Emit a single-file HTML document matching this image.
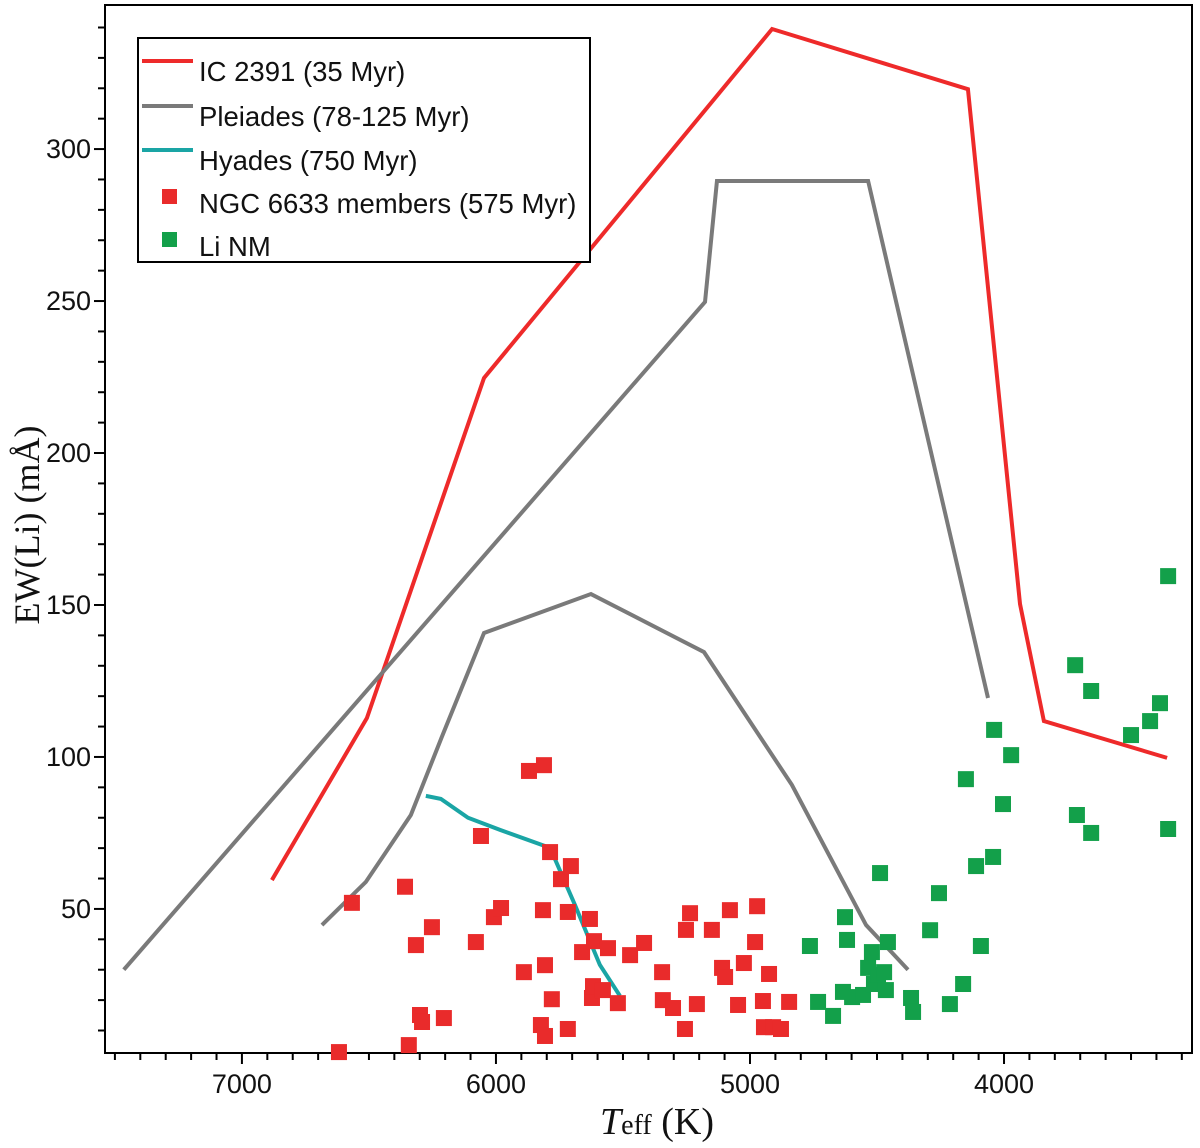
<!DOCTYPE html>
<html><head><meta charset="utf-8"><style>
html,body{margin:0;padding:0;background:#fff;}
svg{display:block;}
text{font-family:"Liberation Sans",Arial,sans-serif;}
</style></head><body>
<svg id="chart" width="1200" height="1148" viewBox="0 0 1200 1148" xmlns="http://www.w3.org/2000/svg">
<g id="plot"></g>
</svg>
<script>
const xTicks=[7000,6000,5000,4000];
const yTicks=[50,100,150,200,250,300];
const icT=[6882,6508,6047,4913,4142,3937,3843,3358];
const icV=[59.5,112.8,224.7,339.5,319.7,150.3,111.8,99.7];
const pl1T=[7465,5177,5130,4535,4063];
const pl1V=[30,249.7,289.5,289.5,119.4];
const pl2T=[6685,6512,6335,6213,6047,5626,5181,4835,4543,4378];
const pl2V=[44.7,58.9,80.9,106.6,140.8,153.6,134.5,90.8,44.7,30];
const hyT=[6276,6217,6110,5984,5787,5689,5591,5512];
const hyV=[87.2,86.2,80,76,70.1,51.3,31.6,21.4];
const memT=[6618,6567,6358,6343,6315,6299,6291,6252,6205,6079,6059,6008,5980,5890,5870,5811,5823,5807,5815,5807,5787,5780,5744,5717,5705,5717,5661,5630,5614,5622,5618,5579,5559,5520,5472,5417,5346,5343,5303,5256,5252,5236,5209,5150,5110,5098,5079,5047,5024,4980,4972,4949,4945,4925,4909,4878,4846];
const memV=[2.9,52,57.3,5.2,38.1,15.1,12.8,44,14.1,39.1,74,47.3,50.3,29.2,95.4,97.3,11.8,8.2,49.6,31.5,68.7,20.3,59.8,49,64.1,10.5,35.8,46.7,39.4,20.7,24.6,23.3,37.1,19,34.8,38.8,29.2,20,17.4,10.5,43.1,48.6,18.7,43.1,30.6,27.6,49.6,18.4,32.2,39.1,50.9,19.7,11.1,28.6,11.1,10.5,19.4];
const nmT=[4764,4732,4673,4626,4618,4634,4598,4555,4535,4520,4512,4496,4488,4472,4457,4465,4366,4358,4291,4256,4213,4161,4150,4110,4091,4043,4039,4004,3972,3720,3713,3657,3657,3500,3425,3386,3354,3354];
const nmV=[37.8,19.4,14.8,47.3,39.8,22.7,21,21.7,30.6,35.8,25.3,28.3,61.8,29.2,39.1,23.3,20.7,16.1,43,55.2,18.7,25.3,92.7,64.1,37.8,67.1,108.9,84.5,100.6,130.2,80.9,121.7,75,107.2,111.8,117.7,159.5,76.3];

const L=105,R=1192,T=5,B=1053;
const tMax=7539,tMin=3260,vMin=2.6,vMax=347.4;
const sx=t=>L+(tMax-t)/(tMax-tMin)*(R-L);
const sy=v=>B-(v-vMin)/(vMax-vMin)*(B-T);
const NS='http://www.w3.org/2000/svg';
const g=document.getElementById('plot');
function mk(tag,attrs,parent){const e=document.createElementNS(NS,tag);for(const k in attrs)e.setAttribute(k,attrs[k]);(parent||g).appendChild(e);return e;}

let fr=mk('rect',{x:L,y:T,width:R-L,height:B-T,fill:'none',stroke:'#000','stroke-width':2});



const xa=mk('g',{});


for(let t=7500;t>=3300;t-=100){const x=sx(t);const maj=t%1000===0;mk('line',{x1:x,x2:x,y1:B,y2:B+(maj?11:7),stroke:'#000','stroke-width':2},xa);}
xTicks.forEach(t=>{const e=mk('text',{x:sx(t),y:B+40,'font-size':27,'text-anchor':'middle',fill:'#111'},xa);e.textContent=t;

});
const ya=mk('g',{});


for(let v=10;v<=340;v+=10){const y=sy(v);const maj=v%50===0;mk('line',{x1:L,x2:L-(maj?11:7),y1:y,y2:y,stroke:'#000','stroke-width':2},ya);}
yTicks.forEach(v=>{const e=mk('text',{x:L-14,y:sy(v)+9,'font-size':27,'text-anchor':'end',fill:'#111'},ya);e.textContent=v;

});

function line(ts,vs,color,name){const p=ts.map((t,i)=>sx(t)+','+sy(vs[i])).join(' ');const e=mk('polyline',{points:p,fill:'none',stroke:color,'stroke-width':4,'stroke-linejoin':'miter'});

}
line(icT,icV,'#ee2a2a','ic2391-line');
line(pl1T,pl1V,'#7a7a7a','pleiades-upper-line');
line(pl2T,pl2V,'#7a7a7a','pleiades-lower-line');
line(hyT,hyV,'#1aa5a5','hyades-line');

function pts(ts,vs,color,name){ts.forEach((t,i)=>{const e=mk('rect',{x:sx(t)-8,y:sy(vs[i])-8,width:16,height:16,fill:color});

});}
pts(memT,memV,'#e92b2b','member-point');
pts(nmT,nmV,'#13a04a','li-nm-point');

const lg=mk('g',{});


mk('rect',{x:138,y:38,width:452,height:224,fill:'#fff',stroke:'#000','stroke-width':2},lg);
const ent=[['line','#ee2a2a','IC 2391 (35 Myr)',81],['line','#7a7a7a','Pleiades (78-125 Myr)',126],['line','#1aa5a5','Hyades (750 Myr)',170],['sq','#e92b2b','NGC 6633 members (575 Myr)',213],['sq','#13a04a','Li NM',256]];
ent.forEach(en=>{const eg=mk('g',{},lg);


if(en[0]==='line')mk('line',{x1:142,x2:193,y1:en[3]-20,y2:en[3]-20,stroke:en[1],'stroke-width':4},eg);
else mk('rect',{x:162,y:en[3]-24,width:15,height:15,fill:en[1]},eg);
const t=mk('text',{x:199,y:en[3],'font-size':27.5,fill:'#111'},eg);t.textContent=en[2];});
</script>
<div style="position:absolute;left:27px;top:525px;transform:translate(-50%,-50%) rotate(-90deg);font-family:'Liberation Serif',serif;font-size:36px;white-space:nowrap;color:#111;">EW(Li) (mÅ)</div>
<div style="position:absolute;left:600px;top:1100px;font-family:'Liberation Serif',serif;font-size:38px;white-space:nowrap;color:#111;"><i>T</i><span style="font-size:28px">eff</span> (K)</div>
</body></html>
